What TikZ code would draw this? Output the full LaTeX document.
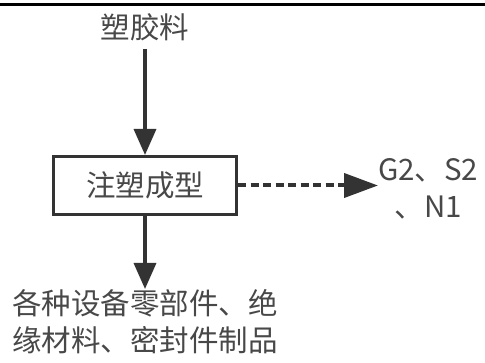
\documentclass[tikz,border=0pt]{standalone}
\usepackage{fontspec}
\setmainfont{Noto Sans CJK SC}
\usetikzlibrary{arrows.meta}
\definecolor{ink}{HTML}{333333}
\definecolor{label}{HTML}{484848}
\tikzset{
	txt/.style={text=label, font=\fontsize{29.5}{37}\selectfont, inner sep=0pt},
	stepbox/.style={draw=ink, line width=3pt, minimum width=183pt, minimum height=58pt, text=label, font=\fontsize{29.5}{37}\selectfont},
	flow/.style={draw=ink, line width=3.5pt, -{Triangle[length=26pt,width=22pt]}},
	dotflow/.style={draw=ink, line width=4pt, dash pattern=on 8pt off 4.5pt, -{Triangle[length=34pt,width=24pt]}}
}

\begin{document}
\begin{tikzpicture}[x=1pt,y=-1pt]
			%%%%% START %%%%%
			\useasboundingbox (0,0) rectangle (485,363);
			
			\draw[line width=3pt, color=black] (0,5) -- (485,5);
			
			\node[txt] (raw) at (145,27) {塑胶料};
			\node[stepbox] (mold) at (145,185.5) {注塑成型};
			\node[txt, anchor=west, align=center] (waste) at (378,189) {G2、S2\\、N1};
			\node[txt, anchor=north west, align=left] (prod) at (12,289) {各种设备零部件、绝\\缘材料、密封件制品};
			
			\draw[flow, shorten <=8pt] (raw.south) -- (mold.north);
			\draw[dotflow] (mold.east) -- (mold.east -| waste.west);
			\draw[flow] (mold.south) -- (mold.south |- prod.north);
			
			%%%%% END %%%%%
		\end{tikzpicture}
\end{document}
